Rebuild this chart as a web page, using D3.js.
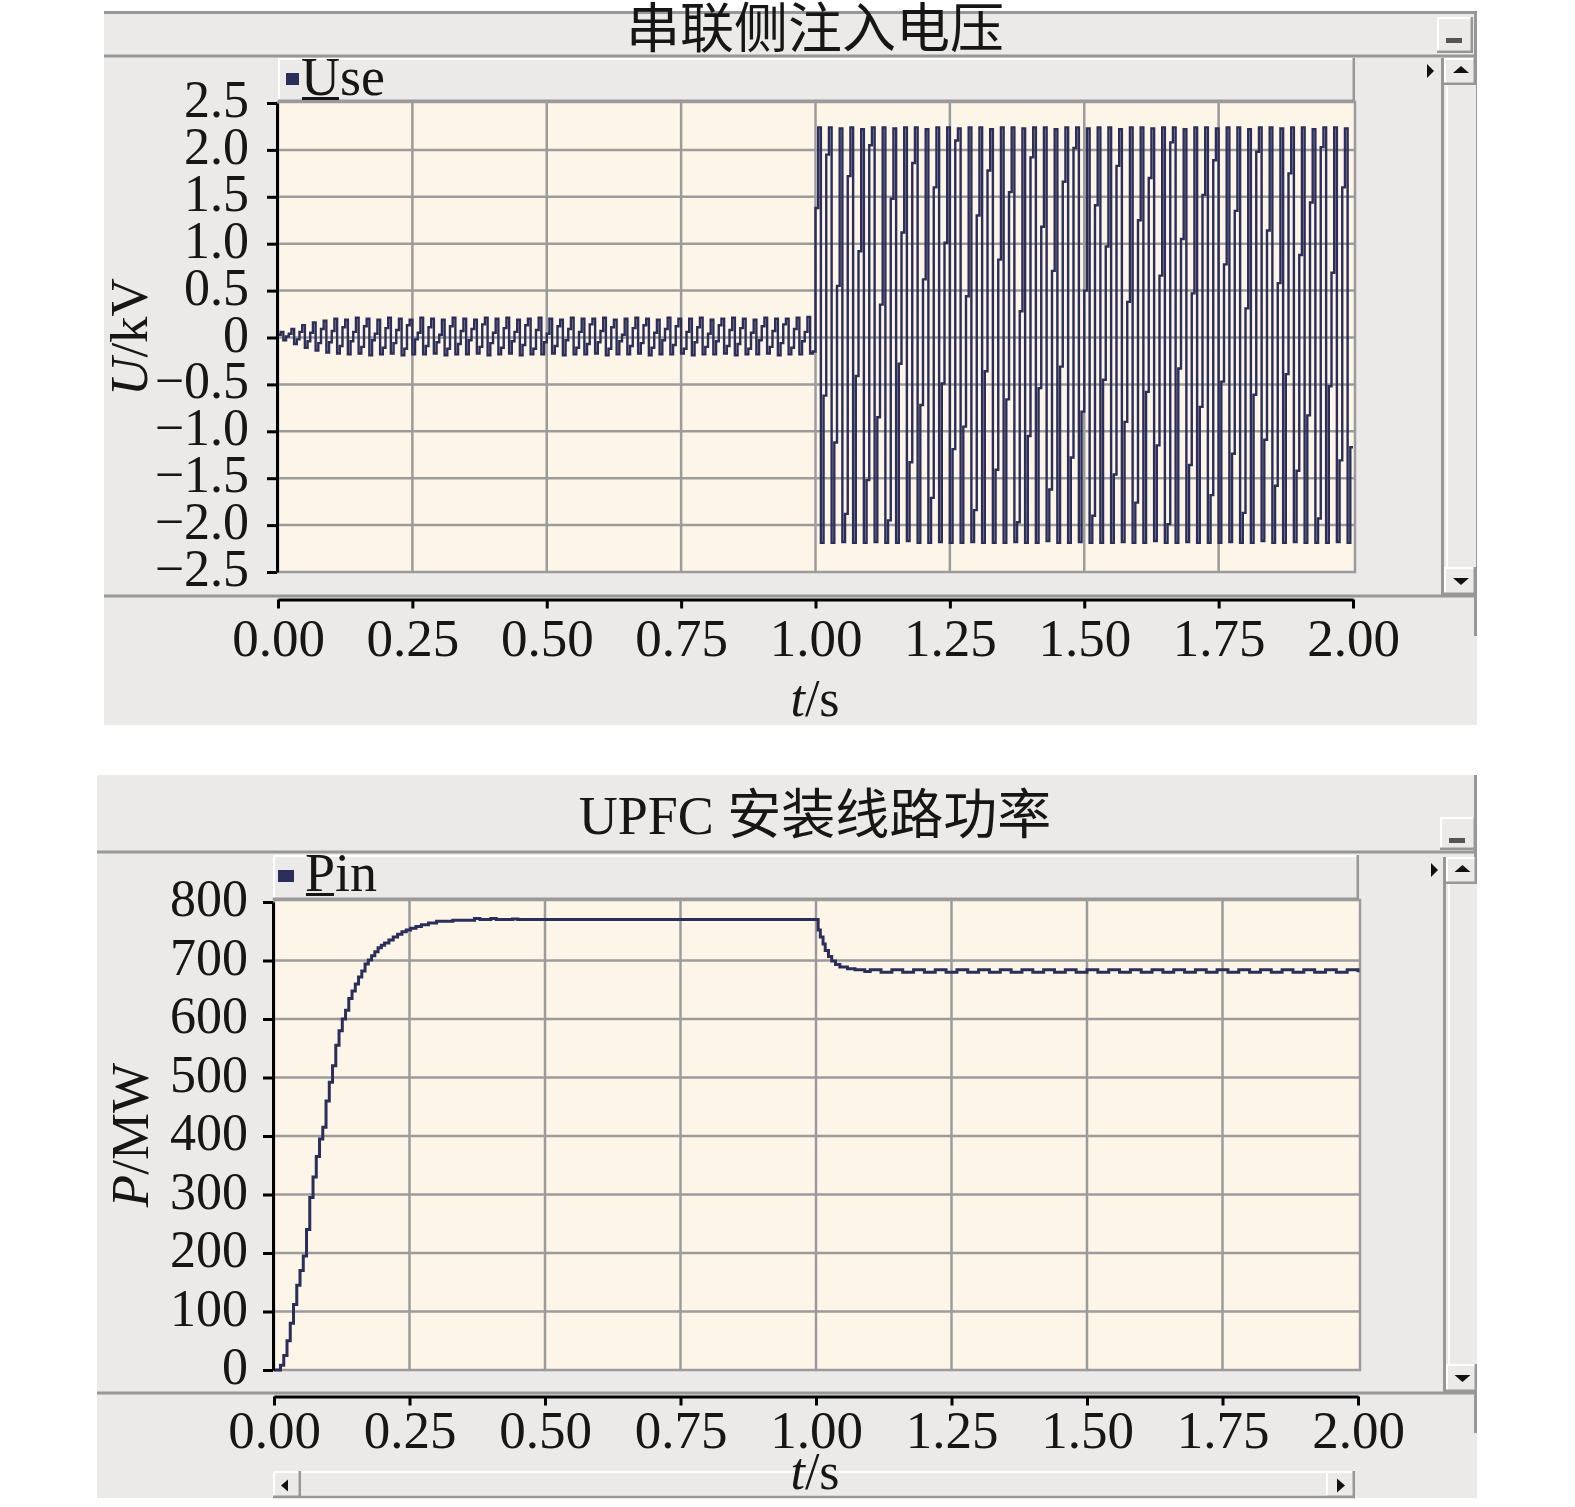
<!DOCTYPE html>
<html>
<head>
<meta charset="utf-8">
<script src="https://cdn.jsdelivr.net/npm/d3@7/dist/d3.min.js"></script>
<style>
html,body{margin:0;padding:0;background:#fff;}
svg{display:block;}
</style>
</head>
<body>
<svg id="chart" width="1575" height="1507"></svg>
<script>
// ================= DATA =================
const xTicks = [0, 0.25, 0.5, 0.75, 1, 1.25, 1.5, 1.75, 2];
const xTickLabels = ["0.00", "0.25", "0.50", "0.75", "1.00", "1.25", "1.50", "1.75", "2.00"];

// --- top chart: series-side injected voltage ---
const topTitle = "串联侧注入电压";
const topLegend = "Use";
const topYTicks = [-2.5, -2, -1.5, -1, -0.5, 0, 0.5, 1, 1.5, 2, 2.5];
const topYTickLabels = ["−2.5", "−2.0", "−1.5", "−1.0", "−0.5", "0", "0.5", "1.0", "1.5", "2.0", "2.5"];
const useStep = 0.005; // s between plotted samples
// 0 – 1 s (kV)
const usePre = [
  0.03,0.06,-0.03,0.01,  0.04,0.09,-0.07,-0.02,  0.06,0.13,-0.11,-0.04,  0.05,0.16,-0.14,-0.06,
  0.09,0.18,-0.16,-0.05, 0.07,0.20,-0.17,-0.09,  0.11,0.19,-0.18,-0.04,  0.06,0.21,-0.17,-0.10,
  0.12,0.20,-0.19,-0.03, 0.04,0.19,-0.18,-0.11,  0.10,0.21,-0.17,-0.06,  0.08,0.20,-0.19,-0.12,
  0.13,0.19,-0.18,-0.02, 0.05,0.21,-0.18,-0.09,  0.11,0.20,-0.17,-0.05,  0.03,0.19,-0.19,-0.12,
  0.12,0.21,-0.18,-0.07, 0.07,0.20,-0.18,-0.03,  0.09,0.19,-0.17,-0.10,  0.14,0.21,-0.19,-0.06,
  0.05,0.20,-0.18,-0.11, 0.10,0.21,-0.17,-0.04,  0.06,0.19,-0.19,-0.08,  0.13,0.20,-0.18,-0.12,
  0.08,0.21,-0.18,-0.05, 0.04,0.20,-0.17,-0.09,  0.12,0.19,-0.19,-0.03,  0.09,0.21,-0.18,-0.11,
  0.06,0.20,-0.18,-0.07, 0.14,0.20,-0.17,-0.05,  0.07,0.21,-0.19,-0.12,  0.11,0.19,-0.18,-0.04,
  0.03,0.20,-0.18,-0.09, 0.10,0.21,-0.17,-0.06,  0.13,0.20,-0.19,-0.11,  0.05,0.19,-0.18,-0.03,
  0.09,0.21,-0.18,-0.08, 0.12,0.20,-0.17,-0.12,  0.06,0.20,-0.19,-0.05,  0.11,0.21,-0.18,-0.10,
  0.04,0.19,-0.18,-0.04, 0.13,0.20,-0.17,-0.09,  0.08,0.21,-0.19,-0.07,  0.10,0.20,-0.18,-0.12,
  0.05,0.19,-0.18,-0.03, 0.12,0.21,-0.17,-0.10,  0.07,0.20,-0.19,-0.06,  0.14,0.20,-0.18,-0.11,
  0.09,0.21,-0.18,-0.04, 0.06,0.22,-0.17,-0.15
];
// 1 – 2 s (kV)
const usePost = [
  1.38,2.24,-2.19,-0.62, 1.95,2.24,-2.19,-1.12, 0.55,2.23,-2.18,-1.88, 1.72,2.24,-2.19,-0.41,
  0.92,2.22,-2.19,-1.52, 2.05,2.24,-2.18,-0.85, 0.35,2.24,-2.19,-1.95, 1.48,2.23,-2.19,-0.28,
  1.12,2.24,-2.17,-1.33, 1.86,2.24,-2.19,-0.72, 0.62,2.22,-2.19,-1.71, 1.60,2.24,-2.18,-0.49,
  1.01,2.24,-2.19,-1.19, 2.10,2.23,-2.19,-0.95, 0.44,2.24,-2.18,-1.84, 1.30,2.24,-2.19,-0.36,
  1.78,2.22,-2.19,-1.41, 0.83,2.24,-2.19,-0.66, 1.55,2.24,-2.18,-1.97, 0.28,2.23,-2.19,-1.05,
  1.92,2.24,-2.19,-0.54, 1.18,2.24,-2.17,-1.62, 0.71,2.22,-2.19,-0.31, 1.66,2.24,-2.19,-1.28,
  2.02,2.24,-2.18,-0.79, 0.50,2.23,-2.19,-1.90, 1.41,2.24,-2.19,-0.45, 0.97,2.24,-2.19,-1.46,
  1.83,2.22,-2.18,-0.90, 0.38,2.24,-2.19,-1.76, 1.25,2.24,-2.19,-0.58, 1.70,2.23,-2.17,-1.15,
  0.66,2.24,-2.19,-1.99, 2.08,2.24,-2.19,-0.33, 1.05,2.22,-2.18,-1.36, 0.47,2.24,-2.19,-0.74,
  1.52,2.24,-2.19,-1.68, 1.89,2.23,-2.19,-0.47, 0.78,2.24,-2.18,-1.24, 1.35,2.24,-2.19,-1.87,
  0.31,2.22,-2.19,-0.61, 1.98,2.24,-2.17,-1.09, 1.14,2.24,-2.19,-1.58, 0.58,2.23,-2.19,-0.39,
  1.75,2.24,-2.18,-1.42, 0.88,2.24,-2.19,-0.83, 1.44,2.22,-2.19,-1.93, 2.03,2.24,-2.19,-0.52,
  0.69,2.24,-2.18,-1.31, 1.60,2.23,-2.19,-1.17
];

// --- bottom chart: UPFC line power ---
const botTitle = "UPFC 安装线路功率";
const botLegend = "Pin";
const botYTicks = [0, 100, 200, 300, 400, 500, 600, 700, 800];
const botYTickLabels = ["0", "100", "200", "300", "400", "500", "600", "700", "800"];
const pinTime = [
  0, 0.006, 0.012, 0.018, 0.024, 0.030, 0.036, 0.042, 0.048, 0.054, 0.060, 0.066, 0.072, 0.078,
  0.084, 0.090, 0.096, 0.102, 0.108, 0.114, 0.120, 0.126, 0.132, 0.138, 0.144, 0.150, 0.156,
  0.162, 0.168, 0.174, 0.180, 0.186, 0.192, 0.198, 0.204, 0.212, 0.220, 0.228, 0.236, 0.244,
  0.252, 0.262, 0.272, 0.285, 0.300, 0.330, 0.370, 0.380, 0.400, 0.410, 0.440, 0.450,
  1.000, 1.004, 1.008, 1.013, 1.017, 1.023, 1.029, 1.036, 1.044, 1.058, 1.072, 1.090,
  1.10, 1.12, 1.14, 1.16, 1.18, 1.20, 1.22, 1.24, 1.26, 1.28, 1.30, 1.32, 1.34, 1.36, 1.38,
  1.40, 1.42, 1.44, 1.46, 1.48, 1.50, 1.52, 1.54, 1.56, 1.58, 1.60, 1.62, 1.64, 1.66, 1.68,
  1.70, 1.72, 1.74, 1.76, 1.78, 1.80, 1.82, 1.84, 1.86, 1.88, 1.90, 1.92, 1.94, 1.96, 1.98, 2.00
];
const pinValue = [
  0, 0, 8, 25, 50, 80, 112, 145, 170, 195, 240, 295, 330, 365,
  395, 415, 460, 492, 520, 555, 580, 600, 615, 635, 648, 660, 672,
  682, 694, 701, 708, 715, 722, 726, 730, 735, 740, 745, 749, 752,
  755, 758, 761, 764, 767, 769, 772, 770, 772, 770, 771, 770,
  770, 752, 740, 728, 717, 707, 699, 693, 689, 686, 684, 681,
  684, 680, 684, 680, 684, 680, 684, 680, 684, 680, 684, 680, 684, 680, 684,
  680, 684, 680, 684, 680, 684, 680, 684, 680, 684, 680, 684, 680, 684, 680,
  684, 680, 684, 680, 684, 680, 684, 680, 684, 680, 684, 680, 684, 680, 684, 680
];

// ================= STYLE =================
const C = { bg: "#ebeae8", cream: "#fdf5e8", grid: "#9b9b9b", frame: "#979797", line: "#2b2e58", ink: "#161616" };
const SERIF = "'Liberation Serif','Times New Roman',serif";
const MIX = "'Liberation Serif','Noto Sans CJK SC',serif";
const svg = d3.select("#chart");

function bevel(g, x0, y0, x1, y1) {
  g.append("rect").attr("x", x0).attr("y", y0).attr("width", x1 - x0).attr("height", y1 - y0).attr("fill", C.bg);
  g.append("path").attr("d", `M${x0 + 1},${y1 - 1}V${y0 + 1}H${x1 - 1}`).attr("stroke", "#fff").attr("stroke-width", 2).attr("fill", "none");
  g.append("path").attr("d", `M${x0},${y1 - 1.2}H${x1 - 1.2}V${y0}`).attr("stroke", C.frame).attr("stroke-width", 2.5).attr("fill", "none");
}
function tri(g, pts) {
  g.append("polygon").attr("points", pts.map(p => p.join(",")).join(" ")).attr("fill", "#111");
}

function drawPanel(cfg) {
  const g = svg.append("g");
  const [X0, Y0, X1, Y1] = cfg.panel;
  g.append("rect").attr("x", X0).attr("y", Y0).attr("width", X1 - X0).attr("height", Y1 - Y0).attr("fill", C.bg);
  if (cfg.topBorder) g.append("line").attr("x1", X0).attr("x2", X1).attr("y1", Y0 + 1.5).attr("y2", Y0 + 1.5).attr("stroke", C.frame).attr("stroke-width", 3);
  g.append("line").attr("x1", X0).attr("x2", X1).attr("y1", cfg.titleLine).attr("y2", cfg.titleLine).attr("stroke", C.frame).attr("stroke-width", 3);
  g.append("line").attr("x1", X1 - 1.5).attr("x2", X1 - 1.5).attr("y1", Y0).attr("y2", cfg.sep + 40).attr("stroke", C.frame).attr("stroke-width", 3);

  // title
  g.append("text").attr("x", cfg.titleX).attr("y", cfg.titleBase).attr("text-anchor", "middle")
    .style("font-family", MIX).style("font-size", "54px").attr("fill", C.ink).text(cfg.title);

  // minimise button
  bevel(g, ...cfg.minBtn);
  const [mx0, my0, mx1, my1] = cfg.minBtn;
  g.append("rect").attr("x", mx0 + 9).attr("y", my0 + 21).attr("width", mx1 - mx0 - 20).attr("height", 5).attr("fill", "#555");

  // legend bar
  bevel(g, ...cfg.legend);
  g.append("rect").attr("x", cfg.legSq[0]).attr("y", cfg.legSq[1]).attr("width", cfg.legSq[2]).attr("height", cfg.legSq[3]).attr("fill", C.line);
  g.append("text").attr("x", cfg.legTextX).attr("y", cfg.legBase)
    .style("font-family", SERIF).style("font-size", "54px").attr("fill", C.ink).text(cfg.legend_text);
  const first = g.append("text").attr("x", -999).attr("y", -999).style("font-family", SERIF).style("font-size", "54px").text(cfg.legend_text[0]);
  const uw = first.node().getComputedTextLength();
  first.remove();
  g.append("rect").attr("x", cfg.legTextX + 1).attr("y", cfg.legBase + 2).attr("width", uw - 2).attr("height", 3).attr("fill", C.ink);

  // right-pointing small triangle
  const [tx, ty] = cfg.rTri;
  tri(g, [[tx, ty], [tx, ty + 14], [tx + 7, ty + 7]]);

  // vertical scrollbar
  const [sx0, sy0, sx1, sy1] = cfg.vScroll;
  g.append("rect").attr("x", sx0).attr("y", sy0).attr("width", sx1 - sx0).attr("height", sy1 - sy0).attr("fill", C.bg);
  g.append("line").attr("x1", sx0 - 1.5).attr("x2", sx0 - 1.5).attr("y1", sy0).attr("y2", sy1).attr("stroke", C.frame).attr("stroke-width", 3);
  g.append("line").attr("x1", sx0 + 3).attr("x2", sx0 + 3).attr("y1", sy0).attr("y2", sy1).attr("stroke", "#fff").attr("stroke-width", 2);
  bevel(g, sx0, sy0, sx1, sy0 + 27);
  bevel(g, sx0, sy1 - 28, sx1, sy1);
  const cx = (sx0 + sx1) / 2 + 1;
  tri(g, [[cx - 8, sy0 + 15], [cx + 8, sy0 + 15], [cx, sy0 + 8]]);
  tri(g, [[cx - 8, sy1 - 17], [cx + 8, sy1 - 17], [cx, sy1 - 10]]);

  // separator under plot region
  g.append("line").attr("x1", X0).attr("x2", X1).attr("y1", cfg.sep).attr("y2", cfg.sep).attr("stroke", C.frame).attr("stroke-width", 3);

  // ===== plot =====
  const [px0, py0, px1, py1] = cfg.plot;
  g.append("rect").attr("x", px0).attr("y", py0).attr("width", px1 - px0).attr("height", py1 - py0).attr("fill", C.cream);
  const x = d3.scaleLinear().domain([0, 2]).range(cfg.xRange);
  const y = d3.scaleLinear().domain(cfg.yDomain).range(cfg.yRange);

  g.append("g").selectAll("line").data(xTicks.slice(1, -1)).join("line")
    .attr("x1", d => x(d)).attr("x2", d => x(d)).attr("y1", py0).attr("y2", py1)
    .attr("stroke", C.grid).attr("stroke-width", 2.5);
  g.append("g").selectAll("line").data(cfg.yTicks.slice(1, -1)).join("line")
    .attr("x1", px0).attr("x2", px1).attr("y1", d => y(d)).attr("y2", d => y(d))
    .attr("stroke", C.grid).attr("stroke-width", 2.5);
  g.append("rect").attr("x", px0).attr("y", py0).attr("width", px1 - px0).attr("height", py1 - py0)
    .attr("fill", "none").attr("stroke", C.grid).attr("stroke-width", 2.5);

  const clipId = "clip" + cfg.id;
  svg.append("defs").append("clipPath").attr("id", clipId).append("rect")
    .attr("x", px0).attr("y", py0 - 2).attr("width", px1 - px0).attr("height", py1 - py0 + 4);
  const line = d3.line().x(d => x(d.t)).y(d => y(d.v)).curve(d3.curveStepAfter);
  g.append("path").datum(cfg.series).attr("clip-path", `url(#${clipId})`)
    .attr("d", line).attr("fill", "none").attr("stroke", C.line).attr("stroke-width", cfg.lw)
    .attr("stroke-linejoin", "miter");

  // y axis
  const ya = d3.axisLeft(y).tickValues(cfg.yTicks).tickFormat((d, i) => cfg.yTickLabels[i])
    .tickSize(10).tickSizeOuter(0).tickPadding(cfg.yPad);
  const yg = g.append("g").attr("transform", `translate(${cfg.yAxisX},0)`).call(ya);
  yg.select(".domain").attr("stroke", "#000").attr("stroke-width", 3);
  yg.selectAll(".tick line").attr("stroke", "#000").attr("stroke-width", 3);
  yg.selectAll(".tick text").style("font-family", SERIF).style("font-size", "52px").attr("fill", C.ink).attr("dy", cfg.yDy);

  // x axis
  const xa = d3.axisBottom(x).tickValues(xTicks).tickFormat((d, i) => xTickLabels[i]).tickSize(9).tickSizeOuter(0);
  const xg = g.append("g").attr("transform", `translate(0,${cfg.xAxisY})`).call(xa);
  xg.select(".domain").attr("stroke", "#000").attr("stroke-width", 3);
  xg.selectAll(".tick line").attr("stroke", "#000").attr("stroke-width", 3);
  xg.selectAll(".tick text").style("font-family", SERIF).style("font-size", "53px").attr("fill", C.ink)
    .attr("y", cfg.xLabBase - cfg.xAxisY).attr("dy", 0);

  // horizontal scrollbar (bottom panel)
  if (cfg.hScroll) {
    const [hx0, hy0, hx1, hy1] = cfg.hScroll;
    g.append("rect").attr("x", hx0).attr("y", hy0).attr("width", hx1 - hx0).attr("height", hy1 - hy0).attr("fill", C.bg);
    g.append("line").attr("x1", hx0).attr("x2", hx1).attr("y1", hy0 + 1).attr("y2", hy0 + 1).attr("stroke", "#fff").attr("stroke-width", 2);
    g.append("line").attr("x1", hx0).attr("x2", hx1).attr("y1", hy1 - 1).attr("y2", hy1 - 1).attr("stroke", C.frame).attr("stroke-width", 2.5);
    bevel(g, hx0, hy0, hx0 + 28, hy1);
    bevel(g, hx1 - 29, hy0, hx1, hy1);
    const cy = (hy0 + hy1) / 2 + 1;
    tri(g, [[hx0 + 15, cy - 6], [hx0 + 15, cy + 6], [hx0 + 8, cy]]);
    tri(g, [[hx1 - 18, cy - 7], [hx1 - 18, cy + 7], [hx1 - 10, cy]]);
  }

  // axis titles
  const yl = g.append("text").attr("transform", `translate(${cfg.yLabX},${cfg.yLabY}) rotate(-90)`)
    .attr("text-anchor", "middle").style("font-family", SERIF).style("font-size", "53px").attr("fill", C.ink);
  yl.append("tspan").style("font-style", "italic").text(cfg.yLab[0]);
  yl.append("tspan").text(cfg.yLab[1]);
  const xl = g.append("text").attr("x", cfg.xLabX).attr("y", cfg.xTitleBase)
    .attr("text-anchor", "middle").style("font-family", SERIF).style("font-size", "52px").attr("fill", C.ink);
  xl.append("tspan").style("font-style", "italic").text("t");
  xl.append("tspan").text("/s");
}

// ---- build series ----
const useValues = usePre.concat(usePost);
const useSeries = useValues.map((v, i) => ({ t: i * useStep, v }));
useSeries.push({ t: 2, v: useValues[useValues.length - 1] });
const pinSeries = pinTime.map((t, i) => ({ t, v: pinValue[i] }));

drawPanel({
  id: "top", panel: [104, 11, 1477, 725], topBorder: true, titleLine: 56,
  title: topTitle, titleX: 815, titleBase: 48,
  minBtn: [1437, 17, 1473, 53],
  legend: [278, 58, 1355, 102], legSq: [286, 73, 13, 12], legTextX: 301, legBase: 95, legend_text: topLegend,
  rTri: [1427, 64],
  vScroll: [1444, 58, 1476, 595],
  sep: 596,
  plot: [278, 102, 1355, 572], xRange: [278, 1353], yDomain: [-2.5, 2.5], yRange: [572, 103],
  yTicks: topYTicks, yTickLabels: topYTickLabels, yAxisX: 277, yPad: 18, yDy: "0.26em",
  xAxisY: 599.5, xLabBase: 656,
  series: useSeries, lw: 2.4,
  yLab: ["U", "/kV"], yLabX: 147, yLabY: 337,
  xLabX: 815, xTitleBase: 716
});

drawPanel({
  id: "bot", panel: [97, 775, 1477, 1498], topBorder: false, titleLine: 852,
  title: botTitle, titleX: 815, titleBase: 834,
  minBtn: [1440, 817, 1476, 850],
  legend: [273, 855, 1359, 900], legSq: [278, 870, 16, 12], legTextX: 305, legBase: 891, legend_text: botLegend,
  rTri: [1431, 863],
  vScroll: [1446, 857, 1477, 1392],
  sep: 1393,
  plot: [274, 900, 1360, 1370], xRange: [274, 1358], yDomain: [0, 800], yRange: [1370, 902],
  yTicks: botYTicks, yTickLabels: botYTickLabels, yAxisX: 273, yPad: 15, yDy: "0.26em",
  xAxisY: 1396.5, xLabBase: 1448,
  hScroll: [273, 1471, 1355, 1498],
  series: pinSeries, lw: 3,
  yLab: ["P", "/MW"], yLabX: 148, yLabY: 1135,
  xLabX: 815, xTitleBase: 1489
});
</script>
</body>
</html>
